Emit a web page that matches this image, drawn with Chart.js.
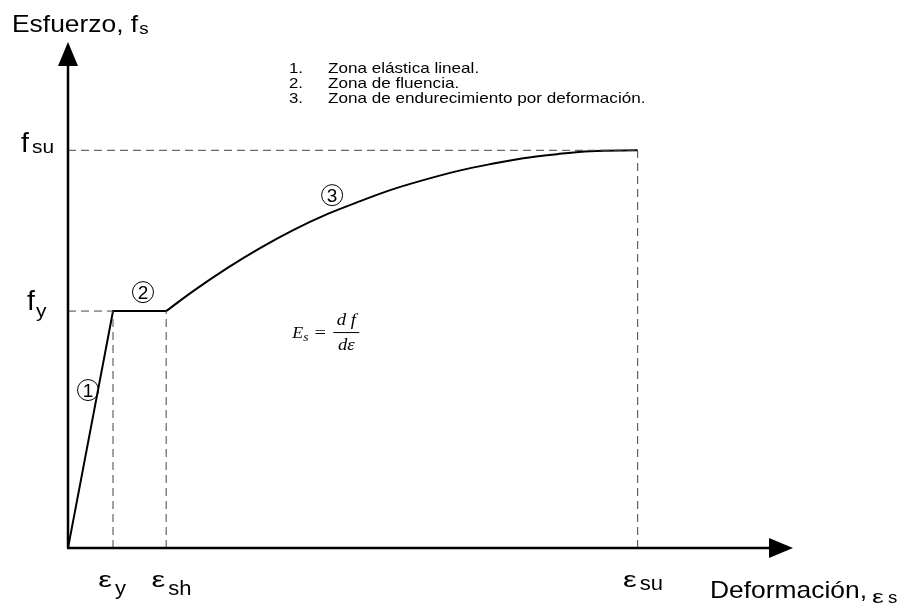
<!DOCTYPE html>
<html>
<head>
<meta charset="utf-8">
<script src="https://cdn.jsdelivr.net/npm/chart.js@4.4.1/dist/chart.umd.min.js"></script>
<style>
  body { margin: 0; background: #fff; }
  canvas { display: block; }
</style>
</head>
<body>
<canvas id="chart" width="922" height="609"></canvas>
<script>
// --- Data (strain in arbitrary units, stress in kg/cm2) ---
const X_MAX = 32.2;
const Y_MAX = 8970;
const epsY = 2.0;
const epsSh = 4.36;
const epsSu = 25.3;
const fy = 4200;
const fsu = 7050;

// zones 1 and 2: straight pieces
const linearX = [0, epsY, epsSh];
const linearY = [0, fy, fy];

// zone 3: strain hardening
const hardX = [4.36, 5.56, 7.07, 8.53, 10.0, 11.51, 12.98, 14.31, 15.78, 17.29, 18.76, 20.22, 21.73, 23.2, 25.3];
const hardY = [4200, 4554, 4962, 5316, 5635, 5918, 6149, 6344, 6521, 6681, 6805, 6911, 6982, 7035, 7050];

const legendLines = ['Zona elástica lineal.', 'Zona de fluencia.', 'Zona de endurecimiento por deformación.'];

// circled zone markers
const zoneMarks = [
  { n: '1', x: 0.89, y: 2800 },
  { n: '2', x: 3.33, y: 4536 },
  { n: '3', x: 11.73, y: 6255 }
];

// where the Es = df/de note sits
const noteX = 9.96;
const noteY = 3828;

const pts = (xs, ys) => xs.map((x, i) => ({ x, y: ys[i] }));

const dashStyle = { borderColor: '#444', borderWidth: 1, borderDash: [8, 5], pointRadius: 0, tension: 0, fill: false };

const SANS = '"Liberation Sans", Arial, sans-serif';
const SERIF = '"Liberation Serif", "Times New Roman", serif';

// text with a slight horizontal stretch (the source picture is a bit wide)
function txt(ctx, s, x, y, font, stretch = 1.1, align = 'left') {
  ctx.save();
  ctx.font = font;
  ctx.textAlign = align;
  ctx.textBaseline = 'alphabetic';
  ctx.translate(x, y);
  ctx.scale(stretch, 1);
  ctx.fillText(s, 0, 0);
  const w = ctx.measureText(s).width * stretch;
  ctx.restore();
  return w;
}

const overlay = {
  id: 'overlay',
  afterDraw(chart) {
    const ctx = chart.ctx;
    const xs = chart.scales.x, ys = chart.scales.y;
    const x0 = xs.getPixelForValue(0), y0 = ys.getPixelForValue(0);
    const xEnd = xs.getPixelForValue(X_MAX), yEnd = ys.getPixelForValue(Y_MAX);
    ctx.save();
    // axes with arrow heads
    ctx.strokeStyle = '#000';
    ctx.fillStyle = '#000';
    ctx.lineWidth = 2.5;
    ctx.beginPath();
    ctx.moveTo(x0, y0);
    ctx.lineTo(x0, yEnd + 20);
    ctx.moveTo(x0 - 1, y0);
    ctx.lineTo(xEnd - 20, y0);
    ctx.stroke();
    ctx.beginPath();
    ctx.moveTo(x0, yEnd);
    ctx.lineTo(x0 - 10, yEnd + 24);
    ctx.lineTo(x0 + 10, yEnd + 24);
    ctx.closePath();
    ctx.fill();
    ctx.beginPath();
    ctx.moveTo(xEnd, y0);
    ctx.lineTo(xEnd - 24, y0 - 10);
    ctx.lineTo(xEnd - 24, y0 + 10);
    ctx.closePath();
    ctx.fill();

    // axis titles
    let w = txt(ctx, 'Esfuerzo, f', 12, 32, '24px ' + SANS);
    txt(ctx, 's', 12 + w + 1, 34, '17px ' + SANS);
    txt(ctx, 'Deformación,', 710, 598, '24px ' + SANS);
    txt(ctx, 'ε', 872, 603, '19px ' + SANS, 1.4);
    txt(ctx, 's', 888, 603, '17px ' + SANS);

    // y labels
    const pyFsu = ys.getPixelForValue(fsu), pyFy = ys.getPixelForValue(fy);
    txt(ctx, 'f', 21, pyFsu + 2, '27px ' + SANS, 1.05);
    txt(ctx, 'su', 32, pyFsu + 3, '19px ' + SANS);
    txt(ctx, 'f', 27, pyFy - 1, '27px ' + SANS, 1.05);
    txt(ctx, 'y', 36, pyFy + 6, '19px ' + SANS);

    // x labels: epsilon ends at its dashed line, subscript after it
    [[epsY, 'y', 595], [epsSh, 'sh', 595], [epsSu, 'su', 590]].forEach(([v, s, by]) => {
      const px = xs.getPixelForValue(v);
      txt(ctx, 'ε', px - 1, 587, '22px ' + SANS, 1.4, 'right');
      txt(ctx, s, px + 2, by, '20px ' + SANS);
    });

    // numbered list
    legendLines.forEach((t, i) => {
      txt(ctx, (i + 1) + '.', 289, 73 + i * 15, '15px ' + SANS, 1.12);
      txt(ctx, t, 328, 73 + i * 15, '15px ' + SANS, 1.14);
    });

    // circled zone numbers
    ctx.lineWidth = 1;
    zoneMarks.forEach(m => {
      const px = xs.getPixelForValue(m.x), py = ys.getPixelForValue(m.y);
      ctx.beginPath();
      ctx.arc(px, py, 10.5, 0, Math.PI * 2);
      ctx.stroke();
      txt(ctx, m.n, px, py + 7, '19px ' + SANS, 1, 'center');
    });

    // note: Es = df / de
    const fx = xs.getPixelForValue(noteX), fyy = ys.getPixelForValue(noteY);
    w = txt(ctx, 'E', fx, fyy + 6, 'italic 17px ' + SERIF, 1.05);
    txt(ctx, 's', fx + w, fyy + 9, 'italic 13px ' + SERIF, 1.05);
    txt(ctx, '=', fx + 28, fyy + 6, '17px ' + SERIF, 1.2, 'center');
    txt(ctx, 'd f', fx + 54, fyy - 7, 'italic 17px ' + SERIF, 1.1, 'center');
    txt(ctx, 'dε', fx + 54, fyy + 18, 'italic 17px ' + SERIF, 1.1, 'center');
    ctx.lineWidth = 1;
    ctx.beginPath();
    ctx.moveTo(fx + 41, fyy + 0.5);
    ctx.lineTo(fx + 67, fyy + 0.5);
    ctx.stroke();
    ctx.restore();
  }
};

new Chart(document.getElementById('chart'), {
  type: 'line',
  data: {
    datasets: [
      { ...dashStyle, data: pts([0, epsY], [fy, fy]) },
      { ...dashStyle, data: pts([epsY, epsY], [0, fy]) },
      { ...dashStyle, data: pts([epsSh, epsSh], [0, fy]) },
      { ...dashStyle, data: pts([0, epsSu], [fsu, fsu]) },
      { ...dashStyle, data: pts([epsSu, epsSu], [0, fsu]) },
      { data: pts(linearX, linearY), borderColor: '#000', borderWidth: 2, pointRadius: 0, tension: 0 },
      { data: pts(hardX, hardY), borderColor: '#000', borderWidth: 2, pointRadius: 0, cubicInterpolationMode: 'monotone' }
    ]
  },
  options: {
    responsive: false,
    animation: false,
    layout: { padding: { left: 68, right: 129, top: 42, bottom: 61 } },
    scales: {
      x: { type: 'linear', min: 0, max: X_MAX, display: false },
      y: { type: 'linear', min: 0, max: Y_MAX, display: false }
    },
    plugins: { legend: { display: false }, tooltip: { enabled: false } }
  },
  plugins: [overlay]
});
</script>
</body>
</html>
